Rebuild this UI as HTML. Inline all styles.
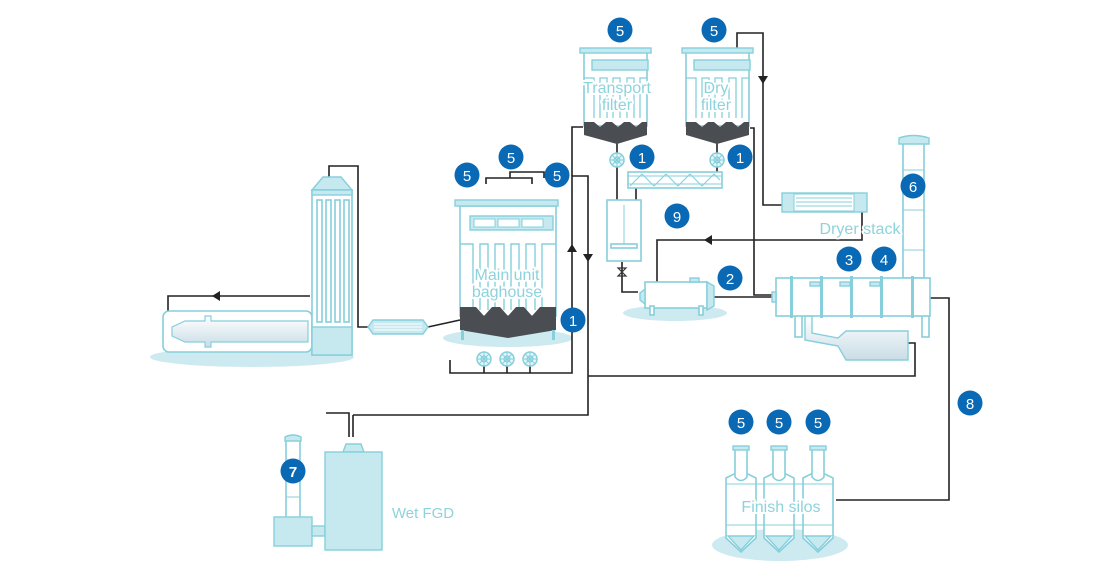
<!DOCTYPE html>
<html><head><meta charset="utf-8"><style>
html,body{margin:0;padding:0;background:#fff;}
svg{display:block;}
text{font-family:"Liberation Sans",sans-serif;}
.b{fill:#0a69b4;}
.bt{fill:#fff;font-size:15px;text-anchor:middle;}
.lb{fill:#8dd3dc;font-size:16px;text-anchor:middle;paint-order:stroke;stroke:#fff;stroke-width:4px;stroke-linejoin:round;}
.e{fill:#fff;stroke:#86cfdb;stroke-width:1.6;}
.f{fill:#c6e9f0;stroke:#86cfdb;stroke-width:1.4;}
.k{fill:none;stroke:#222;stroke-width:1.6;}
.sh{fill:#cdeaf1;}
</style></head><body>
<svg width="1100" height="582" viewBox="0 0 1100 582" xmlns="http://www.w3.org/2000/svg">
<defs>
<linearGradient id="g" x1="0" y1="0" x2="0" y2="1"><stop offset="0" stop-color="#fff"/><stop offset="1" stop-color="#c9dde6"/></linearGradient>
<g id="valve"><circle r="7" fill="#e6f6f9" stroke="#86cfdb" stroke-width="1.5"/><circle r="3" fill="none" stroke="#86cfdb" stroke-width="1.2"/><path d="M0-7V7M-7 0H7M-5-5L5 5M5-5L-5 5" stroke="#86cfdb" stroke-width="1"/></g>
</defs>

<ellipse class="sh" cx="252" cy="357" rx="102" ry="10"/>
<ellipse class="sh" cx="508" cy="338" rx="65" ry="9"/>
<ellipse class="sh" cx="675" cy="313" rx="52" ry="8"/>
<ellipse class="sh" cx="780" cy="545" rx="68" ry="16"/>

<g class="k">
<path d="M310 296H168V311"/>
<path d="M329 177V166H358V327H368"/>
<path d="M428 327L460 320"/>
<path d="M450 360V373H572V176H588V415H353"/>
<path d="M326 413H349V437"/>
<path d="M353 415V437"/>
<path d="M588 376H915V343H908"/>
<path d="M583 127H572V176"/>
<path d="M484 360V373M507 360V373M530 360V373"/>
<path d="M486 184V178H532V184M510 178V172H544V178"/>
<path d="M617 143V200M636 188V200M717 143V172"/>
<path d="M737 48V33H763V205H782"/>
<path d="M750 128H754V295H776"/>
<path d="M862 212V240H657V282"/>
<path d="M622 262V292H638"/>
<path d="M712 297H776"/>
<path d="M930 298H949V500H836"/>
</g>
<g fill="#222">
<path d="M212 296l8-5v10z"/>
<path d="M572 244l-5 8h10z"/>
<path d="M588 262l-5-8h10z"/>
<path d="M763 84l-5-8h10z"/>
<path d="M704 240l8-5v10z"/>
</g>

<rect x="163" y="311" width="149" height="41" rx="6" class="e"/>
<path d="M172 327L185 321H205V316H211V321H308V342H211V347H205V342H185L172 336Z" fill="url(#g)" stroke="#86cfdb" stroke-width="1.2"/>
<path d="M312 190L323 177H341L352 190Z" class="f"/>
<rect x="312" y="190" width="40" height="165" class="e"/>
<rect x="312" y="190" width="40" height="5" class="f"/>
<rect x="312" y="327" width="40" height="28" class="f"/>
<g class="e"><rect x="317" y="200" width="5" height="122"/><rect x="326" y="200" width="5" height="122"/><rect x="335" y="200" width="5" height="122"/><rect x="344" y="200" width="5" height="122"/></g>
<path d="M368 327L373 320H423L428 327L423 334H373Z" class="f"/>
<path d="M374 324H422M374 327H422M374 330H422" stroke="#fff" stroke-width="1"/>

<rect x="460" y="206" width="96" height="110" class="e"/>
<rect x="455" y="200" width="103" height="6" class="f"/>
<rect x="470" y="216" width="83" height="14" class="f"/>
<rect x="474" y="219" width="21" height="8" fill="#fff" stroke="#86cfdb"/><rect x="498" y="219" width="21" height="8" fill="#fff" stroke="#86cfdb"/><rect x="522" y="219" width="21" height="8" fill="#fff" stroke="#86cfdb"/>
<path d="M460 244H473V310M480 310V244H488V310M495 310V244H504V310M511 310V244H519V310M526 310V244H535V310M542 310V244H556" fill="none" stroke="#86cfdb" stroke-width="1.4"/>
<path d="M460 307H476L484 316L492 307H500L508 316L516 307H524L532 316L540 307H556V330L508 338L460 330Z" fill="#4a4d52"/>
<rect x="461" y="330" width="3" height="10" fill="#86cfdb"/><rect x="552" y="330" width="3" height="10" fill="#86cfdb"/>
<text class="lb" x="507" y="280">Main unit</text>
<text class="lb" x="507" y="297">baghouse</text>
<use href="#valve" x="484" y="359"/><use href="#valve" x="507" y="359"/><use href="#valve" x="530" y="359"/>

<g>
<rect x="584" y="52" width="63" height="74" class="e"/>
<rect x="580" y="48" width="71" height="5" class="f"/>
<rect x="592" y="60" width="56" height="10" class="f"/>
<path d="M584 78H594V118M600 118V78H607V118M613 118V78H620V118M627 118V78H634V118M640 118V78H647" fill="none" stroke="#86cfdb" stroke-width="1.3"/>
<path d="M584 122H594L600 127L606 122H612L618 127L624 122H630L636 127L642 122H647V135L617 144L584 135Z" fill="#4a4d52"/>
<text class="lb" x="617" y="93">Transport</text>
<text class="lb" x="617" y="110">filter</text>
<use href="#valve" x="617" y="160"/>
</g>
<g>
<rect x="686" y="52" width="63" height="74" class="e"/>
<rect x="682" y="48" width="71" height="5" class="f"/>
<rect x="694" y="60" width="56" height="10" class="f"/>
<path d="M686 78H696V118M702 118V78H709V118M715 118V78H722V118M729 118V78H736V118M742 118V78H749" fill="none" stroke="#86cfdb" stroke-width="1.3"/>
<path d="M686 122H696L702 127L708 122H714L720 127L726 122H732L738 127L744 122H749V135L717 144L686 135Z" fill="#4a4d52"/>
<text class="lb" x="716" y="93">Dry</text>
<text class="lb" x="716" y="110">filter</text>
<use href="#valve" x="717" y="160"/>
</g>
<rect x="628" y="172" width="94" height="16" class="e"/>
<path d="M628 176H722M628 184H722M630 186L642 174L654 186L666 174L678 186L690 174L702 186L714 174L720 180" fill="none" stroke="#86cfdb" stroke-width="1.1"/>
<rect x="607" y="200" width="34" height="61" class="e"/>
<path d="M624 205V244" stroke="#86cfdb"/><rect x="611" y="244" width="26" height="4" class="e"/>
<path d="M618 268L626 276L618 276L626 268Z" fill="none" stroke="#333" stroke-width="1.2"/>

<rect x="645" y="282" width="62" height="26" class="e"/>
<path d="M707 282L714 286V306L707 310Z" class="f"/>
<path d="M645 289L640 293V300L645 304Z" class="f"/>
<rect x="650" y="306" width="4" height="9" class="e"/><rect x="699" y="306" width="4" height="9" class="e"/>
<rect x="690" y="278" width="9" height="4" class="f"/>

<rect x="782" y="193" width="85" height="19" class="f"/>
<rect x="794" y="194" width="60" height="17" fill="#fff" stroke="#86cfdb"/>
<path d="M796 198H852M796 202H852M796 206H852" stroke="#86cfdb"/>

<rect x="903" y="142" width="21" height="136" class="e"/>
<path d="M899 138Q913 133 929 138V144H899Z" class="f"/>
<path d="M903 170H924M903 210H924M903 250H924" stroke="#86cfdb"/>
<text class="lb" x="860" y="234">Dryer stack</text>

<rect x="795" y="315" width="7" height="22" class="e"/>
<rect x="922" y="315" width="7" height="22" class="e"/>
<path d="M805 316V340L838 346L846 360H908V331H846L838 338L812 333V316Z" fill="url(#g)" stroke="#86cfdb" stroke-width="1.4"/>
<rect x="776" y="278" width="154" height="38" class="e"/>
<rect x="772" y="292" width="4" height="10" class="f"/>
<g fill="#86cfdb"><rect x="790" y="276" width="3" height="42"/><rect x="820" y="276" width="3" height="42"/><rect x="850" y="276" width="3" height="42"/><rect x="880" y="276" width="3" height="42"/><rect x="911" y="276" width="3" height="42"/></g>
<g class="f"><rect x="810" y="282" width="10" height="4"/><rect x="840" y="282" width="10" height="4"/><rect x="870" y="282" width="10" height="4"/></g>

<rect x="286" y="440" width="14" height="78" class="e"/>
<path d="M285 437Q293 433 301 437V441H285Z" class="f"/>
<path d="M286 460H300M286 497H300" stroke="#86cfdb"/>
<rect x="274" y="517" width="38" height="29" class="f"/>
<rect x="312" y="526" width="13" height="10" class="f"/>
<path d="M343 452L346 444H361L364 452Z" class="f"/>
<rect x="325" y="452" width="57" height="98" class="f"/>
<text class="lb" x="423" y="518" style="font-size:15px">Wet FGD</text>

<g class="e">
<path d="M726 478L734 474H748L756 478V538L741 552L726 538Z"/>
<path d="M764 478L772 474H786L794 478V538L779 552L764 538Z"/>
<path d="M803 478L811 474H825L833 478V538L818 552L803 538Z"/>
</g>
<g class="f"><path d="M728 536H754L741 550Z"/><path d="M766 536H792L779 550Z"/><path d="M805 536H831L818 550Z"/></g>
<g class="e"><path d="M735 450V477Q741 484 747 477V450"/><path d="M773 450V477Q779 484 785 477V450"/><path d="M812 450V477Q818 484 824 477V450"/></g>
<g class="f"><rect x="733" y="446" width="16" height="4"/><rect x="771" y="446" width="16" height="4"/><rect x="810" y="446" width="16" height="4"/></g>
<path d="M726 484H833M726 525H833" stroke="#86cfdb"/>
<text class="lb" x="781" y="512">Finish silos</text>

<g>
<circle class="b" cx="620" cy="30" r="12.5"/><text class="bt" x="620" y="36">5</text>
<circle class="b" cx="714" cy="30" r="12.5"/><text class="bt" x="714" y="36">5</text>
<circle class="b" cx="467" cy="175" r="12.5"/><text class="bt" x="467" y="181">5</text>
<circle class="b" cx="511" cy="157" r="12.5"/><text class="bt" x="511" y="163">5</text>
<circle class="b" cx="557" cy="175" r="12.5"/><text class="bt" x="557" y="181">5</text>
<circle class="b" cx="642" cy="157" r="12.5"/><text class="bt" x="642" y="163">1</text>
<circle class="b" cx="740" cy="157" r="12.5"/><text class="bt" x="740" y="163">1</text>
<circle class="b" cx="573" cy="320" r="12.5"/><text class="bt" x="573" y="326">1</text>
<circle class="b" cx="677" cy="216" r="12.5"/><text class="bt" x="677" y="222">9</text>
<circle class="b" cx="730" cy="278" r="12.5"/><text class="bt" x="730" y="284">2</text>
<circle class="b" cx="849" cy="259" r="12.5"/><text class="bt" x="849" y="265">3</text>
<circle class="b" cx="884" cy="259" r="12.5"/><text class="bt" x="884" y="265">4</text>
<circle class="b" cx="913" cy="186" r="12.5"/><text class="bt" x="913" y="192">6</text>
<circle class="b" cx="970" cy="403" r="12.5"/><text class="bt" x="970" y="409">8</text>
<circle class="b" cx="293" cy="471" r="12.5"/><text class="bt" x="293" y="477" style="font-weight:bold">7</text>
<circle class="b" cx="741" cy="422" r="12.5"/><text class="bt" x="741" y="428">5</text>
<circle class="b" cx="779" cy="422" r="12.5"/><text class="bt" x="779" y="428">5</text>
<circle class="b" cx="818" cy="422" r="12.5"/><text class="bt" x="818" y="428">5</text>
</g>
</svg>
</body></html>
